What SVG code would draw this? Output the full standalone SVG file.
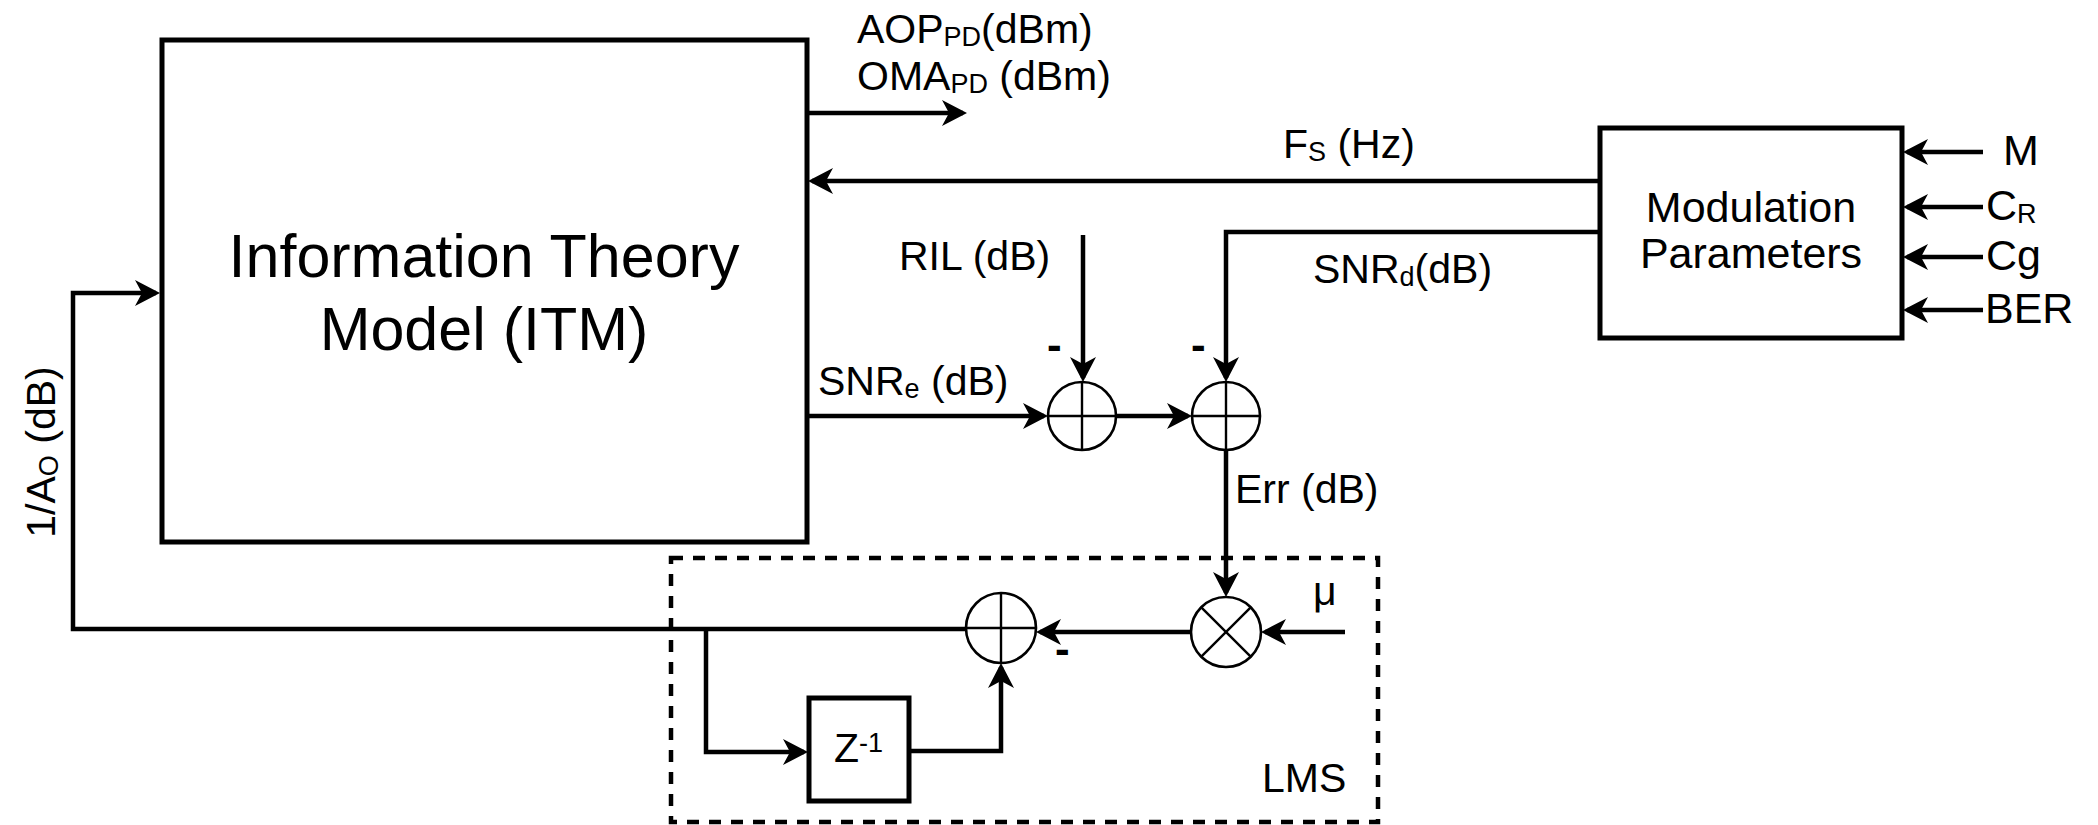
<svg xmlns="http://www.w3.org/2000/svg" width="2098" height="825" viewBox="0 0 2098 825">
<style>
text{font-family:"Liberation Sans",Arial,Helvetica,sans-serif;fill:#000}
.lbl{font-size:41px}
.sub{font-size:27px}
.box{fill:#fff;stroke:#000;stroke-width:5}
.wire{fill:none;stroke:#000;stroke-width:4.5}
.arr{marker-end:url(#ah)}
.op{fill:#fff;stroke:#000;stroke-width:2.6}
.cross{stroke:#000;stroke-width:2.4}
.minus{font-size:44px;font-weight:bold}
.in{font-size:43px}
</style>
<defs>
<marker id="ah" markerUnits="userSpaceOnUse" markerWidth="26" markerHeight="26" viewBox="0 0 26 26" refX="21" refY="13" orient="auto">
<path d="M0,0 L25,13 L0,26 L7,13 Z" fill="#000"/>
</marker>
</defs>
<rect width="2098" height="825" fill="#fff"/>

<g id="lms-frame">
<rect x="671" y="558" width="707" height="264" fill="none" stroke="#000" stroke-width="4.5" stroke-dasharray="12 10"/>
<text class="lbl" x="1262" y="792">LMS</text>
</g>

<g id="connectors">
<path class="wire arr" d="M807,113 H963"/>
<path class="wire arr" d="M1600,181 H812"/>
<path class="wire arr" d="M1600,232 H1226 V378"/>
<path class="wire arr" d="M1083,235 V378"/>
<path class="wire arr" d="M807,416 H1044"/>
<path class="wire arr" d="M1116,416 H1188"/>
<path class="wire arr" d="M1226,450 V593"/>
<path class="wire arr" d="M1345,632 H1265"/>
<path class="wire arr" d="M1191,632 H1040"/>
<path class="wire arr" d="M966,629 H73 V293 H156"/>
<path class="wire arr" d="M706,629 V752 H804"/>
<path class="wire arr" d="M909,751 H1001 V667"/>
<path class="wire arr" d="M1983,152 H1907"/>
<path class="wire arr" d="M1983,207 H1907"/>
<path class="wire arr" d="M1983,257 H1907"/>
<path class="wire arr" d="M1983,310 H1907"/>
</g>

<g id="itm">
<rect class="box" x="162" y="40" width="645" height="502"/>
<text x="484" y="277" font-size="61" text-anchor="middle">Information Theory</text>
<text x="484" y="350" font-size="61" text-anchor="middle">Model (ITM)</text>
</g>

<g id="modulation">
<rect class="box" x="1600" y="128" width="302" height="210"/>
<text x="1751" y="222" font-size="43" text-anchor="middle">Modulation</text>
<text x="1751" y="268" font-size="43" text-anchor="middle">Parameters</text>
</g>

<g id="sum1">
<circle class="op" cx="1082" cy="416" r="34"/>
<line class="cross" x1="1048" y1="416" x2="1116" y2="416"/>
<line class="cross" x1="1082" y1="382" x2="1082" y2="450"/>
</g>

<g id="sum2">
<circle class="op" cx="1226" cy="416" r="34"/>
<line class="cross" x1="1192" y1="416" x2="1260" y2="416"/>
<line class="cross" x1="1226" y1="382" x2="1226" y2="450"/>
</g>

<g id="mult">
<circle class="op" cx="1226" cy="632" r="35"/>
<line class="cross" x1="1201.3" y1="607.3" x2="1250.7" y2="656.7"/>
<line class="cross" x1="1250.7" y1="607.3" x2="1201.3" y2="656.7"/>
</g>

<g id="sum3">
<circle class="op" cx="1001" cy="628" r="35"/>
<line class="cross" x1="966" y1="628" x2="1036" y2="628"/>
<line class="cross" x1="1001" y1="593" x2="1001" y2="663"/>
</g>

<g id="delay">
<rect class="box" x="809" y="698" width="100" height="103"/>
<text class="lbl" x="834" y="762">Z<tspan class="sub" dy="-10">-1</tspan></text>
</g>

<g id="labels">
<text class="lbl" x="857" y="43" font-size="42">AOP<tspan class="sub" dy="3" font-size="29">PD</tspan><tspan dy="-3">(dBm)</tspan></text>
<text class="lbl" x="857" y="90" font-size="42">OMA<tspan class="sub" dy="3" font-size="29">PD</tspan><tspan dy="-3"> (dBm)</tspan></text>
<text class="lbl" x="1283" y="158">F<tspan class="sub" dy="3">S</tspan><tspan dy="-3"> (Hz)</tspan></text>
<text class="lbl" x="1313" y="283">SNR<tspan class="sub" dy="3">d</tspan><tspan dy="-3">(dB)</tspan></text>
<text class="lbl" x="899" y="270">RIL (dB)</text>
<text class="lbl" x="818" y="395">SNR<tspan class="sub" dy="3">e</tspan><tspan dy="-3"> (dB)</tspan></text>
<text class="lbl" x="1235" y="503">Err (dB)</text>
<text class="lbl" x="1313" y="605">μ</text>
<text class="in" x="2003" y="165">M</text>
<text class="in" x="1986" y="220">C<tspan class="sub" dy="3" font-size="29">R</tspan></text>
<text class="in" x="1986" y="270">Cg</text>
<text class="in" x="1985" y="323">BER</text>
<text class="lbl" transform="translate(55,452) rotate(-90)" text-anchor="middle" font-size="43">1/A<tspan class="sub" dy="3" font-size="29">O</tspan><tspan dy="-3"> (dB)</tspan></text>
<text class="minus" x="1047" y="360">-</text>
<text class="minus" x="1191" y="360">-</text>
<text class="minus" x="1055" y="664">-</text>
</g>
</svg>
